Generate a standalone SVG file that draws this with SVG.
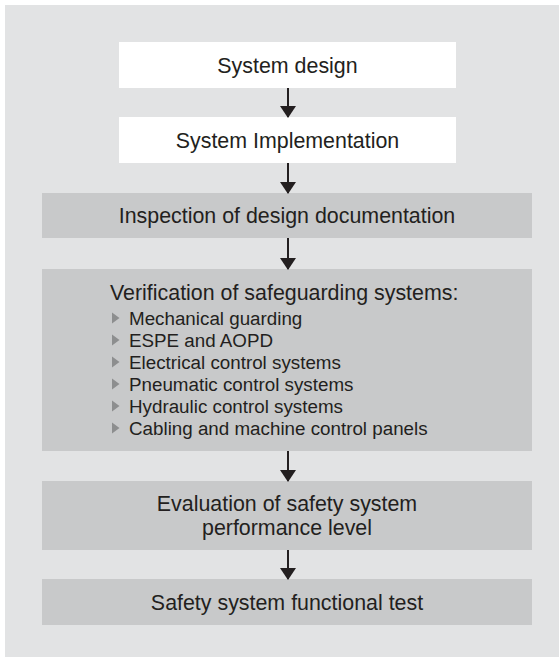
<svg xmlns="http://www.w3.org/2000/svg" width="559" height="657" viewBox="0 0 559 657">
<defs>
<style>
.w{fill:#ffffff}
.g{fill:#c8c9ca}
.t{font-family:"Liberation Sans",Arial,sans-serif;font-size:21.4px;fill:#231f20}
.c{text-anchor:middle}
.i{font-family:"Liberation Sans",Arial,sans-serif;font-size:18.8px;fill:#231f20}
.b{fill:#8d8e8f}
.ln{stroke:#231f20;stroke-width:2}
</style>
<marker id="ah" markerWidth="6" markerHeight="8" refX="5.5" refY="4" orient="auto" markerUnits="strokeWidth">
<path d="M0,0 L6,4 L0,8 Z" fill="#231f20"/>
</marker>
</defs>
<rect x="5" y="5" width="554" height="652" fill="#e2e3e4"/>
<g id="n1"><rect class="w" x="119" y="42" width="337" height="46"/><text class="t c" x="287.5" y="72.5">System design</text></g>
<g id="n2"><rect class="w" x="119" y="117" width="337" height="46"/><text class="t c" x="287.5" y="147.5">System Implementation</text></g>
<g id="n3"><rect class="g" x="42" y="193" width="490" height="45"/><text class="t c" x="287" y="223">Inspection of design documentation</text></g>
<g id="n4"><rect class="g" x="42" y="269" width="490" height="182"/>
<text class="t" x="110" y="299.5">Verification of safeguarding systems:</text>
<path class="b" d="M112,312.5 L119.5,318 L112,323.5 Z"/><text class="i" x="129" y="324.5">Mechanical guarding</text>
<path class="b" d="M112,334.5 L119.5,340 L112,345.5 Z"/><text class="i" x="129" y="346.5">ESPE and AOPD</text>
<path class="b" d="M112,356.5 L119.5,362 L112,367.5 Z"/><text class="i" x="129" y="368.5">Electrical control systems</text>
<path class="b" d="M112,378.5 L119.5,384 L112,389.5 Z"/><text class="i" x="129" y="390.5">Pneumatic control systems</text>
<path class="b" d="M112,400.5 L119.5,406 L112,411.5 Z"/><text class="i" x="129" y="412.5">Hydraulic control systems</text>
<path class="b" d="M112,422.5 L119.5,428 L112,433.5 Z"/><text class="i" x="129" y="434.5">Cabling and machine control panels</text>
</g>
<g id="n5"><rect class="g" x="42" y="481" width="490" height="69"/><text class="t c" x="287" y="510.5">Evaluation of safety system</text><text class="t c" x="287" y="534.5">performance level</text></g>
<g id="n6"><rect class="g" x="42" y="579" width="490" height="46"/><text class="t c" x="287" y="609.5">Safety system functional test</text></g>
<g id="connectors">
<line class="ln" x1="288" y1="88" x2="288" y2="117" marker-end="url(#ah)"/>
<line class="ln" x1="288" y1="163" x2="288" y2="193" marker-end="url(#ah)"/>
<line class="ln" x1="288" y1="238" x2="288" y2="269" marker-end="url(#ah)"/>
<line class="ln" x1="288" y1="451" x2="288" y2="481" marker-end="url(#ah)"/>
<line class="ln" x1="288" y1="550" x2="288" y2="579" marker-end="url(#ah)"/>
</g>
</svg>
